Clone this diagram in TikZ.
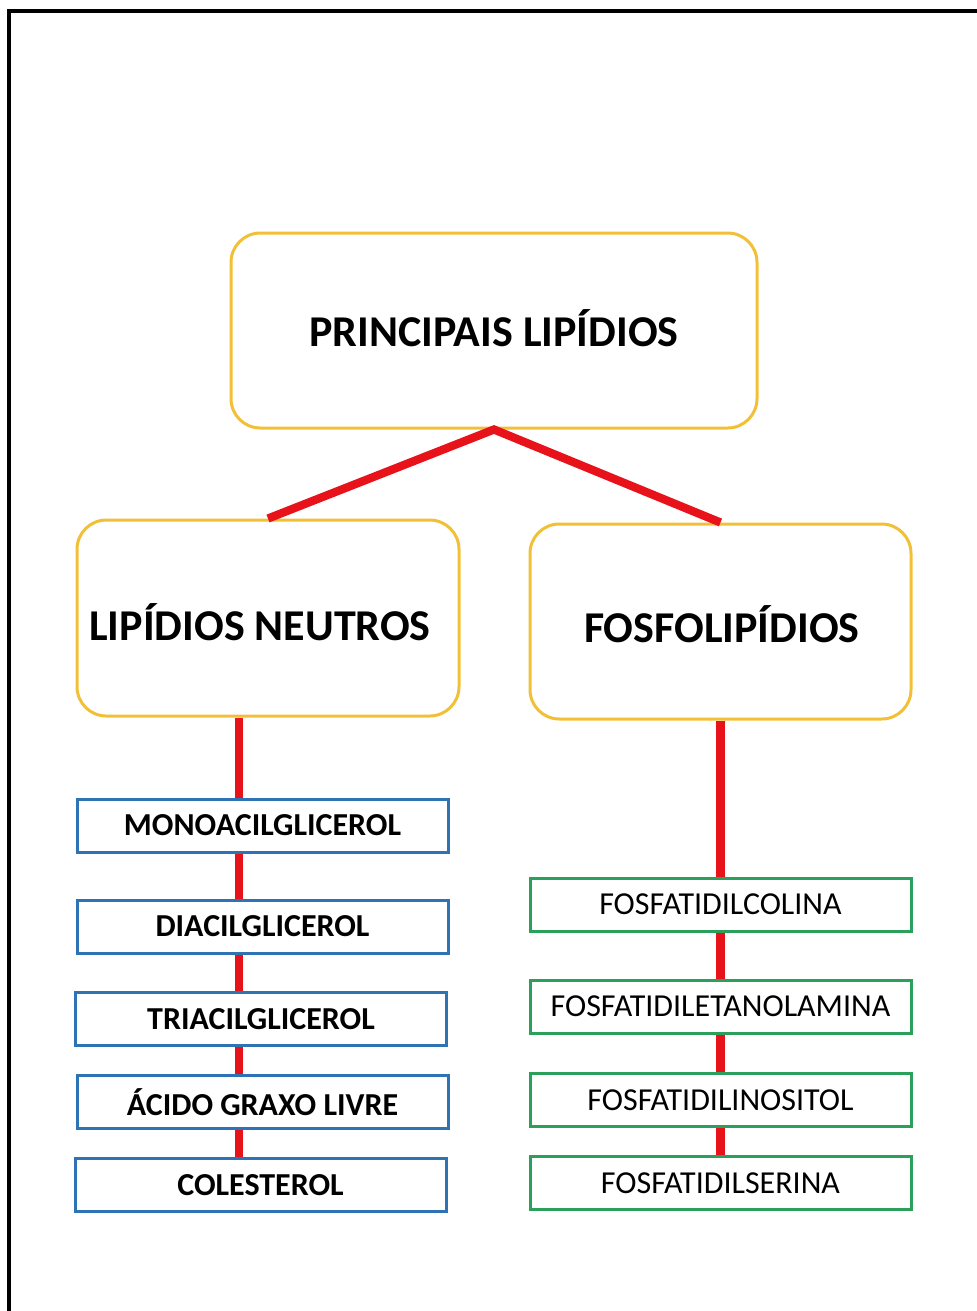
\documentclass[tikz,border=0pt]{standalone}
\usepackage{fontspec}
\setmainfont{Carlito}
\definecolor{gold}{HTML}{F2C037}
\definecolor{boxblue}{HTML}{2E74B5}
\definecolor{boxgreen}{HTML}{2BA05A}
\definecolor{linkred}{HTML}{E8121A}
\newlength\pxl
\setlength\pxl{0.75pt}
\begin{document}
\begin{tikzpicture}[x=0.75pt,y=-0.75pt,
  bigbox/.style={draw=gold, line width=2.25pt, rounded corners=22pt, fill=white,
    inner sep=0pt},
  bigtext/.style={font=\bfseries\fontsize{33}{36}\selectfont, inner sep=0pt},
  itembox/.style={line width=2.25pt, fill=white, inner sep=0pt,
    minimum width=371*\pxl, minimum height=53*\pxl},
  neutral/.style={itembox, draw=boxblue, font=\bfseries\fontsize{24}{28}\selectfont},
  phospho/.style={itembox, draw=boxgreen, minimum width=381*\pxl, font=\fontsize{24}{28}\selectfont},
  link/.style={draw=linkred, line width=6.2pt}
]
\useasboundingbox (0,0) rectangle (977,1311);

% partial frame (top and left edges)
\draw[line width=2.5pt] (9,1311) -- (9,11) -- (977,11);

\coordinate (lx) at (239,0);
% main headings
\node[bigbox, minimum width=526*\pxl, minimum height=195*\pxl] (top) at (494,330.5) {};
\node[bigtext] (toptxt) at ([yshift=1.5pt]top.center) {PRINCIPAIS LIPÍDIOS};
\node[bigbox, minimum width=382*\pxl, minimum height=196*\pxl] (neu) at (268,618) {};
\node[bigtext] (neutxt) at ([xshift=-6pt,yshift=-3.5pt]neu.center) {LIPÍDIOS NEUTROS};
\node[bigbox, minimum width=381*\pxl, minimum height=195*\pxl] (fos) at (720.5,621.5) {};
\node[bigtext] (fostxt) at ([xshift=1pt,yshift=-2pt]fos.center) {FOSFOLIPÍDIOS};

% neutral lipids
\node[neutral] (mono) at (262.5,825.5) {MONOACILGLICEROL};
\node[neutral] (di)   at (262.5,926.5) {DIACILGLICEROL};
\node[neutral] (tri)  at (261,1019)    {TRIACILGLICEROL};
\node[neutral] (aci)  at (262.5,1102)  {ÁCIDO GRAXO LIVRE};
\node[neutral] (col)  at (260.5,1185)  {COLESTEROL};

% phospholipids
\node[phospho] (pc) at (720.5,904.5)  {FOSFATIDILCOLINA};
\node[phospho] (pe) at (720.5,1006.5) {FOSFATIDILETANOLAMINA};
\node[phospho] (pi) at (720.5,1100)   {FOSFATIDILINOSITOL};
\node[phospho] (ps) at (720.5,1183)   {FOSFATIDILSERINA};

% links
\draw[link] (neu.north) -- (top.south) -- (fos.north);
\draw[link] (neu.south -| lx) -- (mono.north -| lx);
\draw[link] (mono.south -| lx) -- (di.north -| lx);
\draw[link] (di.south -| lx) -- (tri.north -| lx);
\draw[link] (tri.south -| lx) -- (aci.north -| lx);
\draw[link] (aci.south -| lx) -- (col.north -| lx);
\draw[link] (fos.south) -- (pc.north);
\draw[link] (pc.south) -- (pe.north);
\draw[link] (pe.south) -- (pi.north);
\draw[link] (pi.south) -- (ps.north);
\end{tikzpicture}
\end{document}
